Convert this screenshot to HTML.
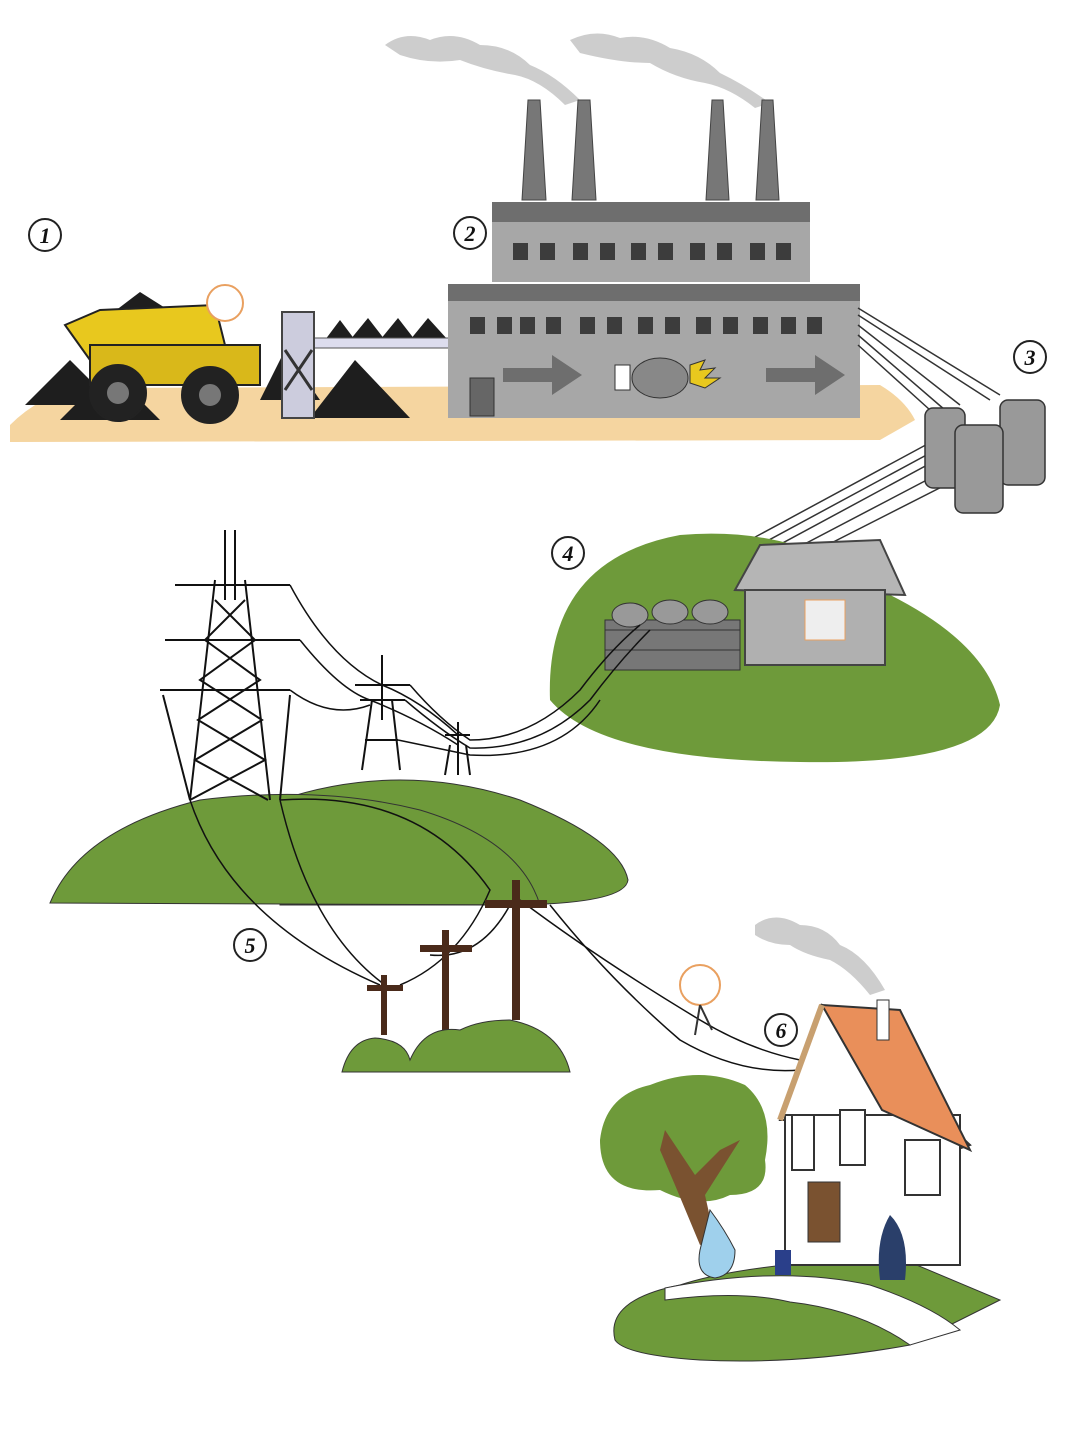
<!DOCTYPE html>
<html><head><meta charset="utf-8"><style>
html,body{margin:0;padding:0;background:#fff;}
svg{display:block;}
text{font-family:"Liberation Serif",serif;font-weight:bold;font-style:italic;}
</style></head><body>
<svg width="1080" height="1429" viewBox="0 0 1080 1429" xmlns="http://www.w3.org/2000/svg">
<!-- smoke -->
<g fill="#c8c8c8" opacity="0.9">
<path d="M385,45 q20,-15 45,-5 q25,-10 50,5 q30,0 50,20 q25,10 50,35 l-15,5 q-25,-25 -50,-30 q-30,-5 -55,-15 q-30,5 -60,-5 z"/>
<path d="M570,40 q25,-12 50,-2 q25,-5 50,10 q30,5 50,25 q25,12 50,30 l-15,5 q-25,-20 -50,-25 q-30,-5 -55,-20 q-30,0 -70,-10 z"/>
<path d="M755,925 q20,-15 45,0 q25,0 40,20 q25,10 45,45 l-15,5 q-20,-25 -40,-35 q-25,-5 -40,-15 q-20,0 -35,-10 z"/>
</g>
<!-- ground tan -->
<path d="M10,425 Q40,395 80,388 L880,385 Q905,400 915,420 L880,440 L10,442 Z" fill="#f5d5a0"/>
<!-- coal piles -->
<g fill="#1e1e1e">
<polygon points="25,405 70,360 115,405"/><polygon points="60,420 110,370 160,420"/>
<polygon points="90,330 140,292 200,330"/><polygon points="310,418 355,360 410,418"/>
<polygon points="325,340 340,320 355,340"/><polygon points="350,340 368,318 385,340"/>
<polygon points="380,340 398,318 415,340"/><polygon points="410,340 428,318 448,340"/>
<polygon points="260,400 285,350 320,400"/>
</g>
<!-- conveyor -->
<rect x="300" y="338" width="150" height="10" fill="#dde" stroke="#555"/>
<rect x="282" y="312" width="32" height="106" fill="#ccd" stroke="#444" stroke-width="2"/>
<path d="M285,350 L312,390 M312,350 L285,390" stroke="#333" stroke-width="3"/>
<!-- truck -->
<g stroke="#222" stroke-width="2">
<polygon points="65,325 100,310 215,305 225,345 210,365 90,360" fill="#e8c81e"/>
<rect x="90" y="345" width="170" height="40" fill="#d9b81a"/>
<circle cx="118" cy="393" r="28" fill="#222"/><circle cx="118" cy="393" r="12" fill="#777"/>
<circle cx="210" cy="395" r="28" fill="#222"/><circle cx="210" cy="395" r="12" fill="#777"/>
</g>
<circle cx="225" cy="303" r="18" fill="#fff" stroke="#e9a060" stroke-width="2"/>
<!-- chimneys -->
<g fill="#777" stroke="#444">
<polygon points="522,200 528,100 540,100 546,200"/><polygon points="572,200 578,100 590,100 596,200"/>
<polygon points="706,200 712,100 723,100 729,200"/><polygon points="756,200 762,100 773,100 779,200"/>
</g>
<!-- factory -->
<rect x="492" y="202" width="318" height="80" fill="#a7a7a7"/>
<rect x="492" y="202" width="318" height="20" fill="#6e6e6e"/>
<rect x="448" y="284" width="412" height="134" fill="#a7a7a7"/>
<rect x="448" y="284" width="412" height="17" fill="#6e6e6e"/>
<g fill="#3c3c3c">
<rect x="513" y="243" width="15" height="17"/><rect x="540" y="243" width="15" height="17"/><rect x="573" y="243" width="15" height="17"/><rect x="600" y="243" width="15" height="17"/><rect x="631" y="243" width="15" height="17"/><rect x="658" y="243" width="15" height="17"/><rect x="690" y="243" width="15" height="17"/><rect x="717" y="243" width="15" height="17"/><rect x="750" y="243" width="15" height="17"/><rect x="776" y="243" width="15" height="17"/>
<rect x="470" y="317" width="15" height="17"/><rect x="497" y="317" width="15" height="17"/><rect x="520" y="317" width="15" height="17"/><rect x="546" y="317" width="15" height="17"/><rect x="580" y="317" width="15" height="17"/><rect x="607" y="317" width="15" height="17"/><rect x="638" y="317" width="15" height="17"/><rect x="665" y="317" width="15" height="17"/><rect x="696" y="317" width="15" height="17"/><rect x="723" y="317" width="15" height="17"/><rect x="753" y="317" width="15" height="17"/><rect x="781" y="317" width="15" height="17"/><rect x="807" y="317" width="15" height="17"/>
</g>
<rect x="470" y="378" width="24" height="38" fill="#666" stroke="#333"/>
<g fill="#6e6e6e">
<rect x="503" y="368" width="50" height="14"/><polygon points="552,355 582,375 552,395"/>
<rect x="766" y="368" width="50" height="14"/><polygon points="815,355 845,375 815,395"/>
</g>
<rect x="615" y="365" width="15" height="25" fill="#fff" stroke="#333"/>
<ellipse cx="660" cy="378" rx="28" ry="20" fill="#888" stroke="#333"/>
<path d="M690,365 l15,-5 -5,10 15,-2 -10,10 15,0 -15,10 -15,-5z" fill="#e8c81e" stroke="#333"/>
<!-- cables -->
<g stroke="#333" stroke-width="1.5" fill="none">
<path d="M858,308 L1000,395"/><path d="M858,315 L990,400"/><path d="M858,325 L960,405"/><path d="M858,335 L945,410"/><path d="M858,345 L930,410"/>
<path d="M935,440 L620,610"/><path d="M945,445 L630,615"/><path d="M955,450 L640,620"/><path d="M965,460 L650,625"/><path d="M975,470 L660,630"/>
</g>
<!-- transformers -->
<g fill="#999" stroke="#333" stroke-width="1.5">
<rect x="925" y="408" width="40" height="80" rx="8"/><rect x="1000" y="400" width="45" height="85" rx="8"/>
<rect x="955" y="425" width="48" height="88" rx="8"/>
</g>
<!-- hill 4 -->
<path d="M550,700 Q545,560 680,535 Q800,525 880,590 Q985,640 1000,705 Q990,765 800,762 Q600,760 550,700Z" fill="#6e9a3a"/>
<!-- substation -->
<rect x="605" y="620" width="135" height="50" fill="#777" stroke="#333"/>
<path d="M605,630 L740,630 M605,650 L740,650" stroke="#333"/>
<g fill="#999" stroke="#333"><ellipse cx="630" cy="615" rx="18" ry="12"/><ellipse cx="670" cy="612" rx="18" ry="12"/><ellipse cx="710" cy="612" rx="18" ry="12"/></g>
<!-- grey house -->
<polygon points="735,590 760,545 880,540 905,595" fill="#b5b5b5" stroke="#444" stroke-width="2"/>
<rect x="745" y="590" width="140" height="75" fill="#b0b0b0" stroke="#444" stroke-width="2"/>
<rect x="805" y="600" width="40" height="40" fill="#eee" stroke="#e9a060"/>
<!-- big hills -->
<path d="M280,800 Q400,760 520,800 Q620,840 628,880 Q625,905 500,905 L280,905Z" fill="#6e9a3a" stroke="#333"/>
<path d="M50,903 Q80,830 200,800 Q320,785 420,810 Q520,840 540,905 Z" fill="#6e9a3a" stroke="#333"/>
<!-- towers -->
<g stroke="#111" stroke-width="2" fill="none">
<path d="M225,530 L225,600 M235,530 L235,600"/>
<path d="M215,580 L190,800 M245,580 L270,800"/>
<path d="M215,600 L255,640 L200,680 L262,720 L195,760 L268,800 M245,600 L205,640 L260,680 L198,720 L265,760 L190,800"/>
<path d="M175,585 L290,585 M165,640 L300,640 M160,690 L290,690"/>
<path d="M163,695 L190,800 M290,695 L280,800"/>
<path d="M382,655 L382,720 M372,700 L362,770 M392,700 L400,770 M355,685 L410,685 M360,700 L405,700 M365,740 L398,740"/>
<path d="M458,722 L458,775 M450,745 L445,775 M466,745 L470,775 M445,735 L470,735"/>
</g>
<g stroke="#111" stroke-width="1.5" fill="none">
<path d="M290,585 Q330,660 382,685 Q420,700 458,735"/>
<path d="M300,640 Q340,690 370,700 Q420,720 458,745"/>
<path d="M290,690 Q330,720 370,705"/>
<path d="M410,685 Q440,720 470,740 Q530,740 580,690 Q610,650 640,625"/>
<path d="M405,700 Q440,730 470,748 Q540,750 590,700 Q620,660 650,630"/>
<path d="M398,740 L470,755 Q560,760 600,700"/>
<path d="M190,800 Q230,920 380,985 M280,800 Q310,930 385,985 M280,800 Q420,790 490,890 Q460,960 400,985"/>
<path d="M520,900 Q600,960 700,1020 Q750,1050 800,1060"/>
<path d="M550,905 Q610,980 680,1040 Q740,1075 800,1070"/>
<path d="M430,955 Q480,960 510,905"/>
</g>
<!-- poles -->
<g fill="#4a2a1a">
<rect x="512" y="880" width="8" height="140"/><rect x="485" y="900" width="62" height="8"/>
<rect x="442" y="930" width="7" height="100"/><rect x="420" y="945" width="52" height="7"/>
<rect x="381" y="975" width="6" height="60"/><rect x="367" y="985" width="36" height="6"/>
</g>
<!-- small hills -->
<path d="M342,1072 Q350,1040 375,1038 Q405,1040 410,1060 Q425,1025 460,1030 Q480,1020 510,1020 Q560,1030 570,1072Z" fill="#6e9a3a" stroke="#333"/>
<!-- bulb -->
<circle cx="700" cy="985" r="20" fill="#fff" stroke="#e9a060" stroke-width="2"/>
<path d="M700,1005 L695,1035 M700,1005 L712,1030" stroke="#333" stroke-width="2"/>
<!-- ground bottom -->
<path d="M615,1340 Q605,1300 680,1285 Q750,1262 900,1258 L1000,1300 L910,1345 Q800,1365 700,1360 Q625,1355 615,1340Z" fill="#6e9a3a" stroke="#333"/>
<path d="M665,1288 Q780,1265 870,1285 Q930,1305 960,1330 L910,1345 Q860,1310 790,1302 Q740,1290 665,1300Z" fill="#fff" stroke="#333"/>
<!-- tree -->
<path d="M600,1140 Q605,1095 650,1085 Q700,1065 745,1085 Q775,1110 765,1160 Q770,1195 730,1195 Q700,1210 660,1190 Q600,1195 600,1140Z" fill="#6e9a3a"/>
<path d="M675,1185 L700,1245 L715,1240 L705,1195 L740,1140 L720,1150 L695,1175 L665,1130 L660,1150Z" fill="#7a5230"/>
<!-- house -->
<polygon points="822,1005 780,1120 880,1120 955,1150 970,1145" fill="#fff" stroke="#333" stroke-width="2"/>
<rect x="785" y="1115" width="175" height="150" fill="#fff" stroke="#333" stroke-width="2"/>
<polygon points="822,1005 900,1010 970,1150 882,1110" fill="#e98f5a" stroke="#333" stroke-width="2"/>
<path d="M822,1005 L780,1120" stroke="#c8a070" stroke-width="6"/>
<rect x="877" y="1000" width="12" height="40" fill="#fff" stroke="#333"/>
<g fill="#fff" stroke="#333" stroke-width="2">
<rect x="792" y="1115" width="22" height="55"/><rect x="840" y="1110" width="25" height="55"/><rect x="905" y="1140" width="35" height="55"/>
</g>
<rect x="808" y="1182" width="32" height="60" fill="#7a5230" stroke="#333"/>
<path d="M710,1210 Q725,1230 735,1250 Q735,1275 715,1278 Q695,1275 700,1250Z" fill="#9fd0ec" stroke="#333"/>
<path d="M890,1215 Q910,1235 905,1280 L880,1280 Q875,1240 890,1215Z" fill="#2a3f6a"/>
<rect x="775" y="1250" width="16" height="25" fill="#2a3f8a"/>
<!-- numbers -->
<g fill="#fff" stroke="#222" stroke-width="2">
<circle cx="45" cy="235" r="16"/><circle cx="470" cy="233" r="16"/><circle cx="1030" cy="357" r="16"/>
<circle cx="568" cy="553" r="16"/><circle cx="250" cy="945" r="16"/><circle cx="781" cy="1030" r="16"/>
</g>
<g font-size="22" text-anchor="middle" fill="#111">
<text x="45" y="243">1</text><text x="470" y="241">2</text><text x="1030" y="365">3</text>
<text x="568" y="561">4</text><text x="250" y="953">5</text><text x="781" y="1038">6</text>
</g>
</svg>
</body></html>
